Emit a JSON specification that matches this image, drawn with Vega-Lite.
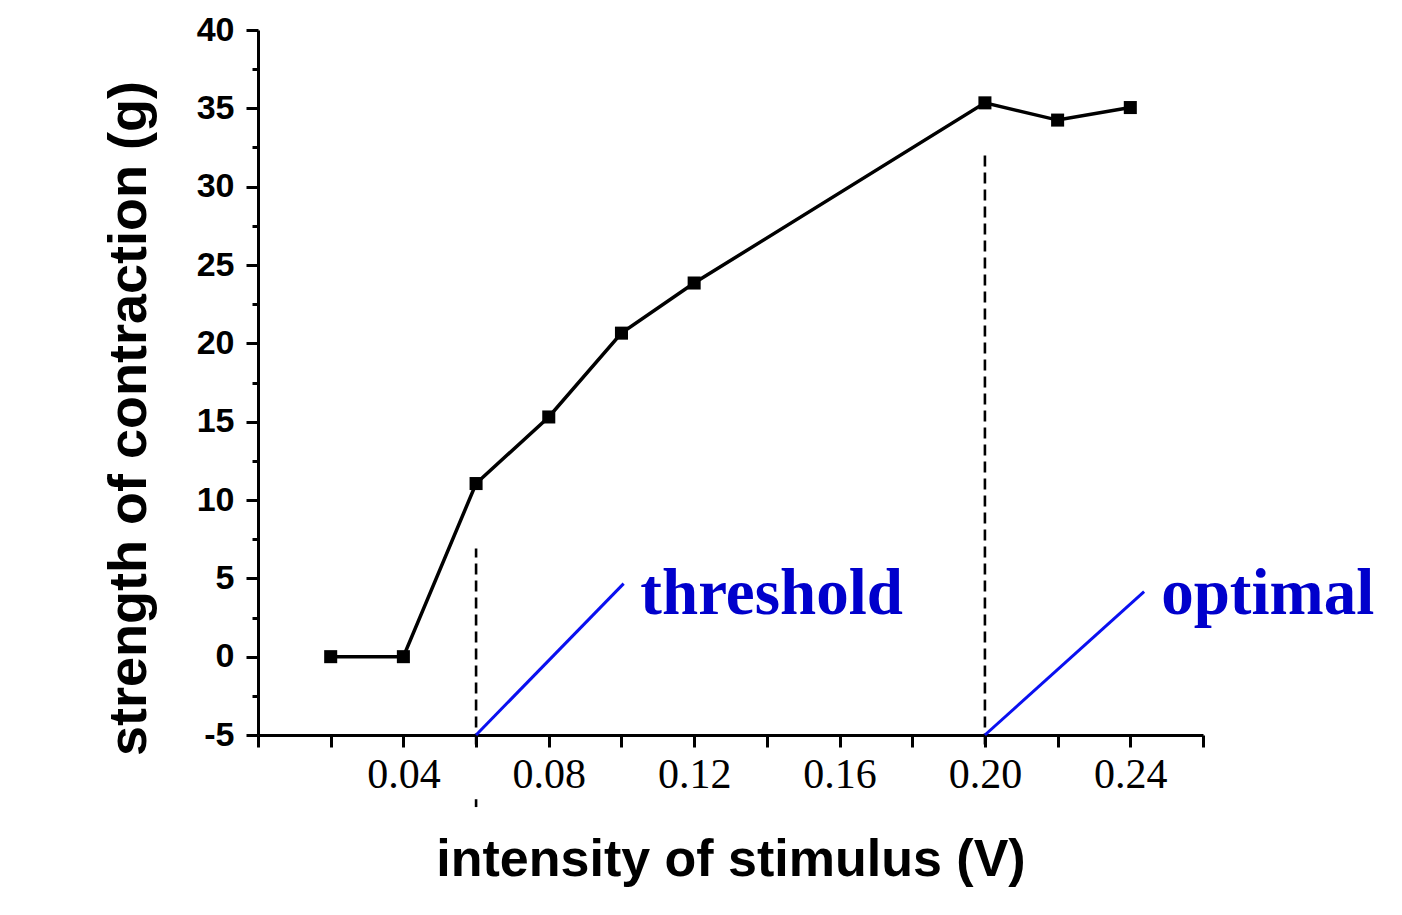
{
  "$schema": "https://vega.github.io/schema/vega-lite/v6.json",
  "width": 945,
  "height": 705,
  "autosize": {"type": "none"},
  "padding": {"left": 258, "top": 30, "right": 199, "bottom": 180},
  "background": "white",
  "config": {
    "view": {"stroke": null},
    "axis": {
      "domainColor": "black", "domainWidth": 3, "tickColor": "black", "tickWidth": 3,
      "labelColor": "black", "titleColor": "black", "grid": false
    }
  },
  "datasets": {
    "main": [
      {"x": 0.02, "y": 0},
      {"x": 0.04, "y": 0},
      {"x": 0.06, "y": 11.05},
      {"x": 0.08, "y": 15.3},
      {"x": 0.10, "y": 20.65},
      {"x": 0.12, "y": 23.85},
      {"x": 0.20, "y": 35.35},
      {"x": 0.22, "y": 34.25},
      {"x": 0.24, "y": 35.05}
    ],
    "dashes": [
      {"x": 0.06, "y1": -5.6, "y2": 6.9},
      {"x": 0.06, "y1": -9.1, "y2": -9.6},
      {"x": 0.20, "y1": -5.6, "y2": 32.1}
    ],
    "blue": [
      {"x1": 0.06, "y1": -5, "x2": 0.1006, "y2": 4.66},
      {"x1": 0.20, "y1": -5, "x2": 0.2438, "y2": 4.15}
    ],
    "labels": [
      {"x": 0.1052, "y": 2.74, "label": "threshold"},
      {"x": 0.2485, "y": 2.74, "label": "optimal"}
    ]
  },
  "resolve": {"axis": {"y": "independent"}},
  "layer": [
    {
      "data": {"name": "main"},
      "mark": {"type": "line", "color": "black", "strokeWidth": 3.5},
      "encoding": {
        "x": {
          "field": "x", "type": "quantitative",
          "scale": {"domain": [0, 0.26], "nice": false, "zero": false},
          "axis": {
            "values": [0, 0.02, 0.04, 0.06, 0.08, 0.10, 0.12, 0.14, 0.16, 0.18, 0.20, 0.22, 0.24, 0.26],
            "labelExpr": "(round(datum.value*100) % 4 == 0 && datum.value > 0) ? format(datum.value, '.2f') : ''",
            "labelFont": "Liberation Serif", "labelFontSize": 42, "labelPadding": 7,
            "tickSize": 12, "labelFlush": false, "labelOverlap": false,
            "title": "intensity of stimulus (V)",
            "titleFont": "Liberation Sans", "titleFontWeight": "bold", "titleFontSize": 52,
            "titleY": 140, "titleBaseline": "alphabetic"
          }
        },
        "y": {
          "field": "y", "type": "quantitative",
          "scale": {"domain": [-5, 40], "nice": false, "zero": false},
          "axis": {
            "orient": "left",
            "values": [-5, 0, 5, 10, 15, 20, 25, 30, 35, 40],
            "labelExpr": "'' + datum.value",
            "labelFont": "Liberation Sans", "labelFontWeight": "bold", "labelFontSize": 34,
            "labelPadding": 12, "tickSize": 12, "labelFlush": false, "labelOverlap": false,
            "title": "strength of contraction (g)",
            "titleFont": "Liberation Sans", "titleFontWeight": "bold", "titleFontSize": 54,
            "titleX": -113, "titleY": 388, "titleBaseline": "alphabetic", "titleAngle": 270
          }
        }
      }
    },
    {
      "data": {"name": "main"},
      "mark": {"type": "square", "color": "black", "opacity": 1, "filled": true, "size": 170},
      "encoding": {
        "x": {"field": "x", "type": "quantitative"},
        "y": {
          "field": "y", "type": "quantitative",
          "axis": {
            "orient": "left",
            "values": [-2.5, 2.5, 7.5, 12.5, 17.5, 22.5, 27.5, 32.5, 37.5],
            "labels": false, "domain": false, "tickSize": 6, "title": null
          }
        }
      }
    },
    {
      "data": {"name": "dashes"},
      "mark": {"type": "rule", "color": "black", "strokeWidth": 2.6, "strokeDash": [11, 6]},
      "encoding": {
        "x": {"field": "x", "type": "quantitative"},
        "y": {"field": "y1", "type": "quantitative", "axis": null},
        "y2": {"field": "y2"}
      }
    },
    {
      "data": {"name": "blue"},
      "mark": {"type": "rule", "color": "#0a10f0", "strokeWidth": 3},
      "encoding": {
        "x": {"field": "x1", "type": "quantitative"},
        "x2": {"field": "x2"},
        "y": {"field": "y1", "type": "quantitative", "axis": null},
        "y2": {"field": "y2"}
      }
    },
    {
      "data": {"name": "labels"},
      "mark": {"type": "text", "color": "#0000cc", "font": "Liberation Serif", "fontWeight": "bold", "fontSize": 65, "align": "left", "baseline": "alphabetic"},
      "encoding": {
        "x": {"field": "x", "type": "quantitative"},
        "y": {"field": "y", "type": "quantitative", "axis": null},
        "text": {"field": "label"}
      }
    }
  ]
}
